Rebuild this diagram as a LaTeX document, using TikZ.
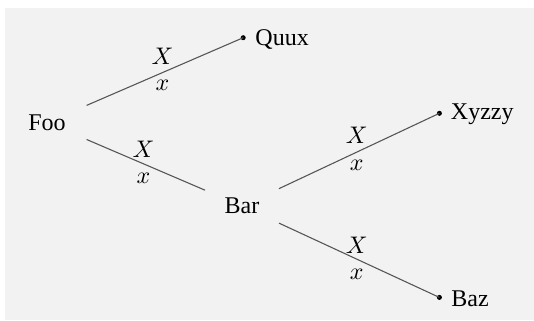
\documentclass[tikz,border=0pt]{standalone}
\usepackage{fontspec}
\setmainfont{Liberation Serif}
\definecolor{bggray}{HTML}{F2F2F2}
\definecolor{edgegray}{HTML}{555555}
\begin{document}
\begin{tikzpicture}[x=0.4167pt,y=-0.4167pt,
  inner/.style={inner sep=0pt, font=\fontsize{10}{12}\selectfont},
  leafdot/.style={circle, fill=black, inner sep=0pt, minimum size=2.1pt},
  leaftext/.style={inner sep=0pt, anchor=base west, font=\fontsize{10}{12}\selectfont},
  branch/.style={draw=edgegray, line width=0.45pt},
  up/.style={inner sep=0pt, shift={(-2.4,-15.2)}, font=\fontsize{10}{12}\selectfont},
  dn/.style={inner sep=0pt, shift={(-2.4,14)}, font=\fontsize{10}{12}\selectfont}]
\useasboundingbox (0,0) rectangle (534,320);
\fill[bggray] (5,8) rectangle (534,320);
% inner nodes
\node[inner, minimum width=32.6pt, minimum height=18.3pt] (foo) at (47,122.5) {Foo};
\node[inner, minimum width=30.4pt, minimum height=18.3pt] (bar) at (242,206) {Bar};
% leaves
\node[leafdot] (quux) at (243.2,37.7) {};
\node[leafdot] (xyzzy) at (439.4,113.3) {};
\node[leafdot] (baz) at (439.4,297.4) {};
\node[leaftext] (quuxt) at (255,45) {Quux};
\node[leaftext] (xyzzyt) at (450.5,119.3) {Xyzzy};
\node[leaftext] (bazt) at (451,306.3) {Baz};
% edges
\draw[branch] (foo) -- (quux.center)
  node[midway, up] (l1a) {$X$} node[midway, dn] (l1b) {$x$};
\draw[branch] (foo) -- (bar)
  node[midway, up] (l2a) {$X$} node[midway, dn] (l2b) {$x$};
\draw[branch] (bar) -- (xyzzy.center)
  node[midway, up] (l3a) {$X$} node[midway, dn] (l3b) {$x$};
\draw[branch] (bar) -- (baz.center)
  node[midway, up] (l4a) {$X$} node[midway, dn] (l4b) {$x$};
\end{tikzpicture}
\end{document}
